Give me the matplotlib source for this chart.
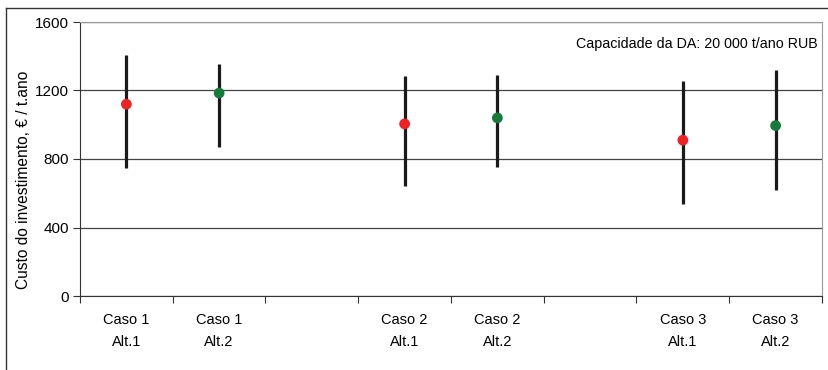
import matplotlib.pyplot as plt
from matplotlib.lines import Line2D

# Investment cost ranges per case / alternative (EUR per t/year)
labels = ['Caso 1\nAlt.1', 'Caso 1\nAlt.2', '', 'Caso 2\nAlt.1', 'Caso 2\nAlt.2', '', 'Caso 3\nAlt.1', 'Caso 3\nAlt.2']
slots = [0, 1, 3, 4, 6, 7]
mid_values = [1120, 1185, 1005, 1040, 910, 995]
low_values = [750, 870, 645, 755, 535, 620]
high_values = [1410, 1355, 1285, 1290, 1255, 1320]
point_colors = ['#ee2224', '#17793a', '#ee2224', '#17793a', '#ee2224', '#17793a']

plt.rcParams['font.family'] = ['Liberation Sans', 'DejaVu Sans']

W, H = 829, 370
fig = plt.figure(figsize=(W / 100, H / 100), dpi=100)
ax = fig.add_axes([80 / W, (H - 296) / H, (822 - 80) / W, (296 - 22) / H])

# Outer frame around the chart
fig.add_artist(Line2D([6 / W, 6 / W], [0, 1 - 8 / H], color='#333333', lw=1.0))
fig.add_artist(Line2D([6 / W, 1], [1 - 8 / H, 1 - 8 / H], color='#333333', lw=1.0))

ax.set_xlim(-0.5, len(labels) - 0.5)
ax.set_ylim(0, 1600)
ax.set_yticks([0, 400, 800, 1200, 1600])
ax.yaxis.grid(True, color='#444444', lw=0.9)
ax.set_axisbelow(True)

ax.vlines(slots, low_values, high_values, color='#1a1a1a', lw=2.3, zorder=3)
ax.scatter(slots, mid_values, s=60, c=point_colors, zorder=4, edgecolors='none')

# boundary ticks on the category axis, labels at the centres
ax.set_xticks([i - 0.5 for i in range(len(labels) + 1)])
ax.set_xticklabels([])
ax.set_xticks(range(len(labels)), minor=True)
ax.set_xticklabels(labels, minor=True, fontsize=10.5, linespacing=1.75)
ax.tick_params(axis='x', which='major', length=5, color='#333333', direction='out')
ax.tick_params(axis='x', which='minor', length=0, pad=12)
ax.tick_params(axis='y', length=5, color='#333333', labelsize=11, pad=3)

for side in ['left', 'bottom']:
    ax.spines[side].set_color('#333333')
for side in ['top', 'right']:
    ax.spines[side].set_color('#999999')

ax.set_ylabel('Custo do investimento, € / t.ano', fontsize=11.2)
ax.yaxis.set_label_coords(-0.066, 0.423)
ax.text(0.994, 0.92, 'Capacidade da DA: 20 000 t/ano RUB', transform=ax.transAxes,
        ha='right', va='center', fontsize=10.3)

fig.savefig('out.png', dpi=100)
